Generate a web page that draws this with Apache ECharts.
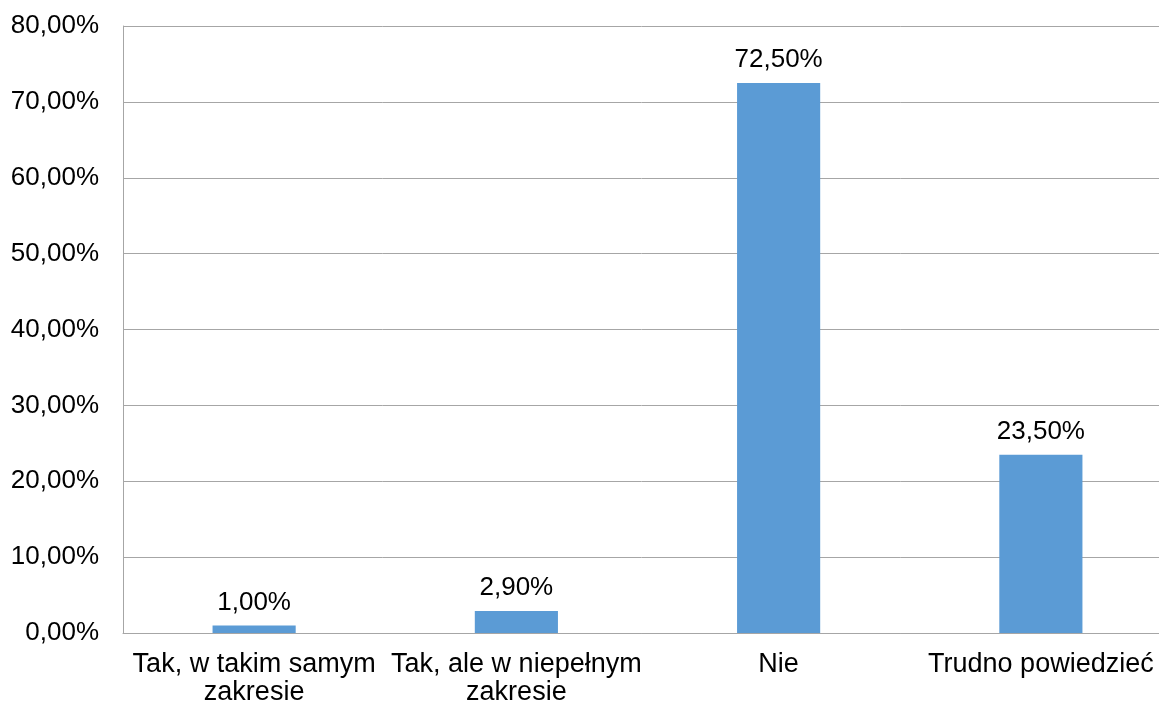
<!DOCTYPE html>
<html><head><meta charset="utf-8">
<script src="https://cdn.jsdelivr.net/npm/echarts@6/dist/echarts.min.js"></script>
<style>html,body{margin:0;padding:0;background:#fff}#c{width:1159px;height:704px}</style>
</head><body><div id="c"></div>
<script>
const categories = ["Tak, w takim samym\nzakresie", "Tak, ale w niepełnym\nzakresie", "Nie", "Trudno powiedzieć"];
const values = [1.0, 2.9, 72.5, 23.5];
const yMin = 0, yMax = 80, yStep = 10;
const fmt = v => v.toFixed(2).replace('.', ',') + '%';
const FF = 'Liberation Sans, Arial, sans-serif';
const chart = echarts.init(document.getElementById('c'));
chart.setOption({
  animation: false,
  backgroundColor: '#fff',
  textStyle: {fontFamily: FF},
  grid: {left: 123, width: 1049, top: 26, height: 607, containLabel: false, outerBoundsMode: 'none'},
  xAxis: {
    type: 'category', data: categories,
    axisLine: {show: true, lineStyle: {color: '#a6a6a6', width: 1}},
    axisTick: {show: false},
    axisLabel: {color: '#000', fontSize: 27, lineHeight: 28, margin: 18, interval: 0, fontFamily: FF}
  },
  yAxis: {
    type: 'value', min: yMin, max: yMax, interval: yStep,
    axisLine: {show: true, lineStyle: {color: '#a6a6a6', width: 1}},
    axisTick: {show: false},
    splitLine: {show: true, lineStyle: {color: '#a6a6a6', width: 1}},
    axisLabel: {color: '#000', fontSize: 26, margin: 24, formatter: v => fmt(v), fontFamily: FF}
  },
  series: [{
    type: 'bar', data: values, barWidth: '31.7%',
    itemStyle: {color: '#5b9bd5'},
    label: {show: true, position: 'top', distance: 10, color: '#000', fontSize: 26, formatter: p => fmt(p.value), fontFamily: FF}
  }]
});
</script></body></html>
